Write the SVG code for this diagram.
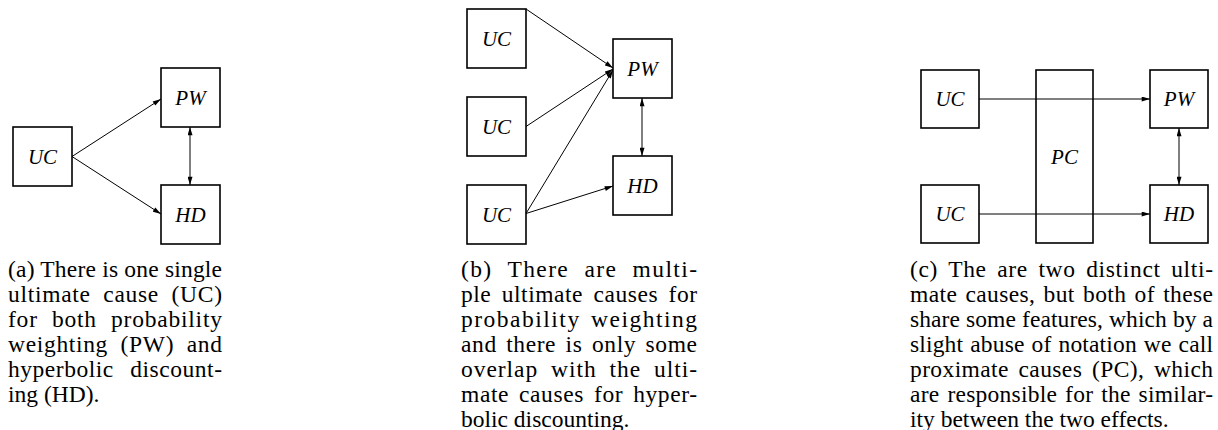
<svg xmlns="http://www.w3.org/2000/svg" width="1218" height="430" viewBox="0 0 1218 430">
<style>
.box{fill:#fff;stroke:#000;stroke-width:1.6}
.lbl{font-family:"Liberation Serif",serif;font-style:italic;font-size:21px;text-anchor:middle;fill:#000}
.cap{font-family:"Liberation Serif",serif;font-size:23.5px;fill:#000}
.ln{stroke:#000;stroke-width:1;fill:none;marker-end:url(#ah)}
.dbl{stroke:#000;stroke-width:1;fill:none;marker-end:url(#ah);marker-start:url(#ah)}
</style>
<defs>
<marker id="ah" viewBox="0 0 10 6" refX="10" refY="3" markerWidth="9" markerHeight="5" orient="auto-start-reverse" markerUnits="userSpaceOnUse">
<path d="M0,0 L10,3 L0,6 z" fill="#000"/>
</marker>
</defs>
<rect width="1218" height="430" fill="#fff"/>

<g id="connectors">
<line class="ln" x1="72" y1="156.5" x2="161" y2="99"/>
<line class="ln" x1="72" y1="156.5" x2="161" y2="214"/>
<line class="dbl" x1="190" y1="127" x2="190" y2="185"/>

<line class="ln" x1="526" y1="9" x2="613" y2="68"/>
<line class="ln" x1="526" y1="126.5" x2="613" y2="69"/>
<line class="ln" x1="526" y1="213.5" x2="613" y2="70"/>
<line class="ln" x1="526" y1="213.5" x2="613" y2="186"/>
<line class="dbl" x1="642" y1="98" x2="642" y2="156"/>

<line class="dbl" x1="1179" y1="128" x2="1179" y2="185"/>
</g>

<g id="a-uc"><rect class="box" x="13" y="127" width="59" height="59"/><text class="lbl" x="42.5" y="163.5">UC</text></g>
<g id="a-pw"><rect class="box" x="161" y="68" width="59" height="59"/><text class="lbl" x="190.5" y="104.5">PW</text></g>
<g id="a-hd"><rect class="box" x="161" y="185" width="59" height="59"/><text class="lbl" x="190.5" y="221.5">HD</text></g>

<g id="b-uc1"><rect class="box" x="467" y="9" width="59" height="59"/><text class="lbl" x="496.5" y="45.5">UC</text></g>
<g id="b-uc2"><rect class="box" x="467" y="97" width="59" height="59"/><text class="lbl" x="496.5" y="133.5">UC</text></g>
<g id="b-uc3"><rect class="box" x="467" y="185" width="59" height="59"/><text class="lbl" x="496.5" y="221.5">UC</text></g>
<g id="b-pw"><rect class="box" x="613" y="39" width="59" height="59"/><text class="lbl" x="642.5" y="75.5">PW</text></g>
<g id="b-hd"><rect class="box" x="613" y="156" width="59" height="59"/><text class="lbl" x="642.5" y="192.5">HD</text></g>

<g id="c-uc1"><rect class="box" x="921" y="70" width="58" height="58"/><text class="lbl" x="950" y="106">UC</text></g>
<g id="c-uc2"><rect class="box" x="921" y="185" width="58" height="58"/><text class="lbl" x="950" y="221">UC</text></g>
<g id="c-pc"><rect class="box" x="1036" y="70" width="57" height="173"/><text class="lbl" x="1064.5" y="163.5">PC</text></g>
<g id="c-pw"><rect class="box" x="1150" y="70" width="58" height="58"/><text class="lbl" x="1179" y="106">PW</text></g>
<g id="c-hd"><rect class="box" x="1150" y="185" width="58" height="58"/><text class="lbl" x="1179" y="221">HD</text></g>

<g id="connectors-c">
<line class="ln" x1="979" y1="99" x2="1150" y2="99"/>
<line class="ln" x1="979" y1="214" x2="1150" y2="214"/>
</g>

<g id="caption-a" class="cap">
<text x="8" y="277" textLength="214" lengthAdjust="spacing">(a) There is one single</text>
<text x="8" y="302" textLength="214" lengthAdjust="spacing" word-spacing="6">ultimate cause (UC)</text>
<text x="8" y="327" textLength="214" lengthAdjust="spacing" word-spacing="7.5">for both probability</text>
<text x="8" y="352" textLength="214" lengthAdjust="spacing" word-spacing="6">weighting (PW) and</text>
<text x="8" y="377" textLength="214" lengthAdjust="spacing" word-spacing="10">hyperbolic discount-</text>
<text x="8" y="402">ing (HD).</text>
</g>
<g id="caption-b" class="cap">
<text x="461" y="277" textLength="236" lengthAdjust="spacing" word-spacing="8">(b) There are multi-</text>
<text x="461" y="302" textLength="236" lengthAdjust="spacing" word-spacing="4">ple ultimate causes for</text>
<text x="461" y="327" textLength="236" lengthAdjust="spacing" word-spacing="3">probability weighting</text>
<text x="461" y="352" textLength="236" lengthAdjust="spacing" word-spacing="3">and there is only some</text>
<text x="461" y="377" textLength="236" lengthAdjust="spacing" word-spacing="6">overlap with the ulti-</text>
<text x="461" y="402" textLength="236" lengthAdjust="spacing" word-spacing="3.5">mate causes for hyper-</text>
<text x="461" y="427">bolic discounting.</text>
</g>
<g id="caption-c" class="cap">
<text x="910" y="277" textLength="303" lengthAdjust="spacing" word-spacing="4">(c) The are two distinct ulti-</text>
<text x="910" y="302" textLength="303" lengthAdjust="spacing" word-spacing="2">mate causes, but both of these</text>
<text x="910" y="327" textLength="303" lengthAdjust="spacing">share some features, which by a</text>
<text x="910" y="352" textLength="303" lengthAdjust="spacing" word-spacing="1">slight abuse of notation we call</text>
<text x="910" y="377" textLength="303" lengthAdjust="spacing" word-spacing="3.5">proximate causes (PC), which</text>
<text x="910" y="402" textLength="303" lengthAdjust="spacing" word-spacing="1.8">are responsible for the similar-</text>
<text x="910" y="427">ity between the two effects.</text>
</g>
</svg>
